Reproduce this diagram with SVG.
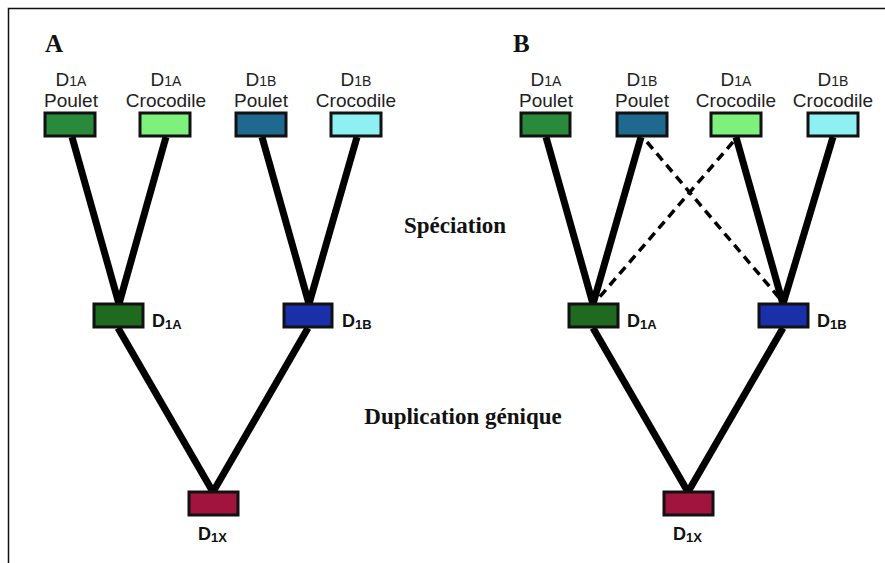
<svg xmlns="http://www.w3.org/2000/svg" width="885" height="563" viewBox="0 0 885 563">
<style>
.box{stroke:#111;stroke-width:3}
.edge{stroke:#000;stroke-width:7;fill:none;stroke-linecap:butt}
.dash{stroke:#000;stroke-width:3.5;fill:none;stroke-dasharray:9 6}
.lbl{font-family:"Liberation Sans",Arial,sans-serif;font-size:19px;fill:#222;text-anchor:middle}
.sub{font-size:14px}
.mid{font-family:"Liberation Sans",Arial,sans-serif;font-size:18px;font-weight:bold;fill:#111}
.msub{font-size:13px}
.ttl{font-family:"Liberation Serif","Times New Roman",serif;font-weight:bold;fill:#111}
</style>
<rect x="0" y="0" width="885" height="563" fill="#fff"/>
<path d="M8.5,563 V8.5 H885" fill="none" stroke="#111" stroke-width="1.5"/>
<text class="ttl" x="45" y="52" font-size="25">A</text>
<text class="ttl" x="513" y="52" font-size="25">B</text>
<text class="ttl" x="455" y="233" font-size="23" text-anchor="middle">Spéciation</text>
<text class="ttl" x="463" y="424" font-size="23" text-anchor="middle">Duplication génique</text>
<g id="connectors">
<line class="edge" x1="72" y1="137" x2="119" y2="304"/>
<line class="edge" x1="166" y1="137" x2="119" y2="304"/>
<line class="edge" x1="262" y1="137" x2="309" y2="304"/>
<line class="edge" x1="357" y1="137" x2="309" y2="304"/>
<line class="edge" x1="118" y1="328" x2="213" y2="492"/>
<line class="edge" x1="308" y1="328" x2="213" y2="492"/>
<line class="edge" x1="546" y1="137" x2="593" y2="304"/>
<line class="edge" x1="641" y1="137" x2="593" y2="304"/>
<line class="edge" x1="736" y1="137" x2="783" y2="304"/>
<line class="edge" x1="833" y1="137" x2="783" y2="304"/>
<line class="edge" x1="593" y1="328" x2="688" y2="492"/>
<line class="edge" x1="783" y1="328" x2="688" y2="492"/>
<line class="dash" x1="647" y1="142" x2="781" y2="300"/>
<line class="dash" x1="733" y1="142" x2="597" y2="300"/>
</g>
<g id="a_d1a_poulet"><rect class="box" x="45" y="113" width="50" height="23" fill="#2a8a3c"/><text class="lbl" x="71" y="86">D<tspan class="sub">1A</tspan></text><text class="lbl" x="71" y="107">Poulet</text></g>
<g id="a_d1a_croco"><rect class="box" x="140" y="113" width="50" height="23" fill="#7ef07c"/><text class="lbl" x="166" y="86">D<tspan class="sub">1A</tspan></text><text class="lbl" x="166" y="107">Crocodile</text></g>
<g id="a_d1b_poulet"><rect class="box" x="236" y="113" width="50" height="23" fill="#1f6890"/><text class="lbl" x="261" y="86">D<tspan class="sub">1B</tspan></text><text class="lbl" x="261" y="107">Poulet</text></g>
<g id="a_d1b_croco"><rect class="box" x="331" y="113" width="50" height="23" fill="#8ef0f2"/><text class="lbl" x="356" y="86">D<tspan class="sub">1B</tspan></text><text class="lbl" x="356" y="107">Crocodile</text></g>
<g id="a_d1a"><rect class="box" x="94" y="304" width="49" height="23" fill="#1f6a1f"/><text class="mid" x="152" y="327">D<tspan class="msub" dy="2">1A</tspan></text></g>
<g id="a_d1b"><rect class="box" x="284" y="304" width="48" height="23" fill="#1a2faa"/><text class="mid" x="342" y="327">D<tspan class="msub" dy="2">1B</tspan></text></g>
<g id="a_d1x"><rect class="box" x="189" y="492" width="49" height="23" fill="#a0143e"/><text class="mid" x="198" y="540">D<tspan class="msub" dy="2">1X</tspan></text></g>
<g id="b_d1a_poulet"><rect class="box" x="521" y="113" width="49" height="23" fill="#2a8a3c"/><text class="lbl" x="546" y="86">D<tspan class="sub">1A</tspan></text><text class="lbl" x="546" y="107">Poulet</text></g>
<g id="b_d1b_poulet"><rect class="box" x="617" y="113" width="50" height="23" fill="#1f6890"/><text class="lbl" x="642" y="86">D<tspan class="sub">1B</tspan></text><text class="lbl" x="642" y="107">Poulet</text></g>
<g id="b_d1a_croco"><rect class="box" x="711" y="113" width="50" height="23" fill="#7ef07c"/><text class="lbl" x="736" y="86">D<tspan class="sub">1A</tspan></text><text class="lbl" x="736" y="107">Crocodile</text></g>
<g id="b_d1b_croco"><rect class="box" x="808" y="113" width="50" height="23" fill="#8ef0f2"/><text class="lbl" x="833" y="86">D<tspan class="sub">1B</tspan></text><text class="lbl" x="833" y="107">Crocodile</text></g>
<g id="b_d1a"><rect class="box" x="569" y="304" width="49" height="23" fill="#1f6a1f"/><text class="mid" x="627" y="327">D<tspan class="msub" dy="2">1A</tspan></text></g>
<g id="b_d1b"><rect class="box" x="759" y="304" width="49" height="23" fill="#1a2faa"/><text class="mid" x="817" y="327">D<tspan class="msub" dy="2">1B</tspan></text></g>
<g id="b_d1x"><rect class="box" x="664" y="492" width="49" height="23" fill="#a0143e"/><text class="mid" x="673" y="540">D<tspan class="msub" dy="2">1X</tspan></text></g>
</svg>
